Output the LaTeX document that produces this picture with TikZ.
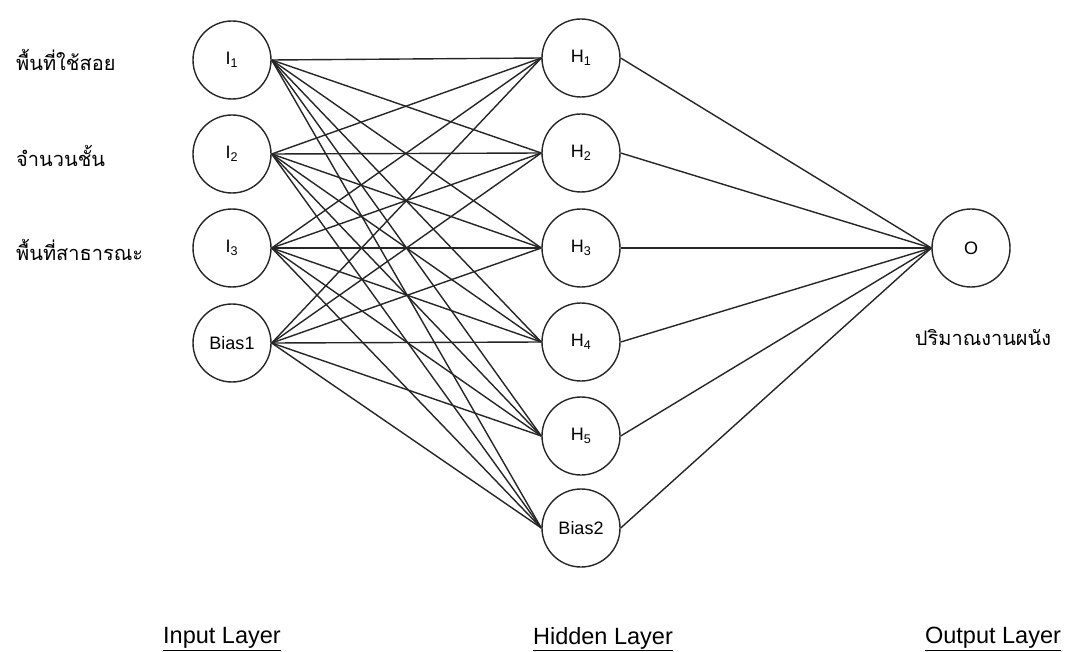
\documentclass[tikz,border=0pt]{standalone}
\usepackage{fontspec}
\setmainfont{Liberation Sans}
\newfontfamily\thaifont[Script=Thai]{Loma}
\begin{document}
\begin{tikzpicture}[x=1pt,y=-1pt,
  neuron/.style={circle, draw=black!85, line width=1.4pt, minimum size=78pt,
    inner sep=0pt, font=\fontsize{18}{20}\selectfont},
  link/.style={draw=black!85, line width=1.4pt},
  thai/.style={font=\thaifont\fontsize{20}{24}\selectfont, inner sep=0pt},
  layer/.style={font=\fontsize{23.5}{26}\selectfont, inner sep=0pt}]
% canvas
\path[fill=white] (0,0) rectangle (1065,652);

% input layer
\node[neuron] (i1) at (232,60)  {I\textsubscript{1}};
\node[neuron] (i2) at (232,154) {I\textsubscript{2}};
\node[neuron] (i3) at (232,248) {I\textsubscript{3}};
\node[neuron] (b1) at (232,343) {Bias1};

% hidden layer
\node[neuron] (h1) at (581,58)  {H\textsubscript{1}};
\node[neuron] (h2) at (581,153) {H\textsubscript{2}};
\node[neuron] (h3) at (581,248) {H\textsubscript{3}};
\node[neuron] (h4) at (581,342) {H\textsubscript{4}};
\node[neuron] (h5) at (581,436) {H\textsubscript{5}};
\node[neuron] (b2) at (581,528) {Bias2};

% output layer
\node[neuron] (o) at (971,248) {O};

% input -> hidden connections
\foreach \s in {i1,i2,i3,b1}
  \foreach \t in {h1,h2,h3,h4,h5,b2}
    \draw[link] (\s.east) -- (\t.west);

% hidden -> output connections
\foreach \s in {h1,h2,h3,h4,h5,b2}
  \draw[link] (\s.east) -- (o.west);

% input names
\node[thai, anchor=west] (n1) at (16,60)  {พื้นที่ใช้สอย};
\node[thai, anchor=west] (n2) at (16,156) {จำนวนชั้น};
\node[thai, anchor=west] (n3) at (16,250) {พื้นที่สาธารณะ};

% output name
\node[thai] (n4) at (983,338) {ปริมาณงานผนัง};

% layer captions
\node[layer] (l1) at (222,639) {\underline{Input Layer}};
\node[layer] (l2) at (603,639) {\underline{Hidden Layer}};
\node[layer] (l3) at (993,639) {\underline{Output Layer}};
\end{tikzpicture}
\end{document}
